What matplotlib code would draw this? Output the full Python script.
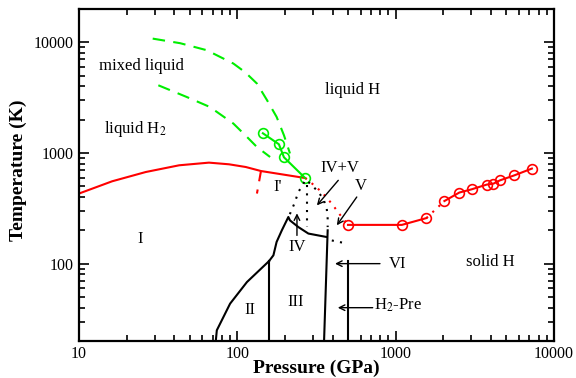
import matplotlib
matplotlib.use("Agg")
import matplotlib.pyplot as plt
from matplotlib.ticker import LogLocator, NullFormatter, FixedLocator, FixedFormatter

plt.rcParams['font.family'] = ['Liberation Serif', 'DejaVu Serif']
plt.rcParams['mathtext.fontset'] = 'stix'

# ---- data (P in GPa, T in K) ----
melt_P = [10, 16.2, 26.4, 42.9, 66.2, 88.7, 113, 141, 268]
melt_T = [430, 555, 673, 774, 818, 790, 747, 687, 594]
melt_dash_P = [141, 133]
melt_dash_T = [687, 430]
red_dot_P = [268, 281, 341, 395, 456, 500]
red_dot_T = [594, 566, 444, 348, 264, 224]
solid_P1 = [500, 1094, 1563]
solid_T1 = [224, 224, 258]
solid_gap_P = [1563, 2032]
solid_gap_T = [258, 368]
solid_P2 = [2032, 2523, 3027, 3758, 4140, 4560, 5620, 7250]
solid_T2 = [368, 439, 470, 518, 528, 566, 628, 723]

green_P = [145, 183, 197, 268]
green_T = [1507, 1199, 914, 594]
upper_dash_P = [29.2, 43.5, 64, 94.4, 112, 133, 154, 177, 197, 215]
upper_dash_T = [10800, 9820, 8490, 6430, 5370, 4240, 3000, 2120, 1445, 990]
lower_dash_P = [31.7, 47.9, 67, 94.4, 115, 133, 161]
lower_dash_T = [4090, 3206, 2606, 1845, 1397, 1132, 920]

I_II_P = [73.1, 74.2, 90, 115, 158.6]
I_II_T = [20, 25, 43.5, 68.2, 105.5]
II_III_P = [158.6, 158.6]
II_III_T = [20, 105.5]
IV_P = [158.6, 169, 177, 191, 205, 210, 215, 243, 281, 367]
IV_T = [105.5, 119, 157, 200, 246, 264, 246, 214, 187, 174]
III_V_P = [353, 372]
III_V_T = [20, 200]
pre_P = [502, 502]
pre_T = [20, 105.5]

dotL_P = [265, 243, 229, 213]
dotL_T = [547, 444, 348, 273]
dotM_P = [274, 274]
dotM_T = [511, 214]
dotR_P = [281, 318, 349, 367, 372, 372]
dotR_T = [547, 460, 387, 314, 255, 214]
dotLR_P = [395, 460]
dotLR_T = [162, 155]

labels = ["mixed liquid", "liquid H$_2$", "liquid H", "I", "I'", "II", "III",
          "IV", "solid H", "IV+V", "V", "VI", "H$_2$-Pre"]
label_P = [24.9, 22.6, 538, 24.3, 181, 120, 235, 238, 3945, 445, 604, 1035, 1035]
label_T = [6080, 1663, 3690, 166, 490, 37.8, 44.7, 140, 103, 727, 500, 98.5, 42]

arrow_from_P = [238, 434, 568, 796, 716]
arrow_from_T = [180, 566, 400, 100, 40]
arrow_to_P = [238, 318, 425, 414, 431]
arrow_to_T = [285, 336, 222, 100, 40]

xticks = [10, 100, 1000, 10000]
yticks = [100, 1000, 10000]

# ---- figure ----
fig = plt.figure(figsize=(5.76, 3.78), dpi=100)
ax = fig.add_axes([79/576, 1-341/378, (554-79)/576, (341-9)/378])
ax.set_xscale('log')
ax.set_yscale('log')
ax.set_xlim(10, 10000)
ax.set_ylim(20, 20000)

red = '#ff0000'
green = '#00ee00'
lw = 1.5

ax.plot(melt_P, melt_T, color=red, lw=lw)
ax.plot(melt_dash_P, melt_dash_T, color=red, lw=lw, dashes=(5, 4))
ax.plot(red_dot_P, red_dot_T, color=red, lw=lw, linestyle=(0, (1, 3)))
ax.plot(solid_P1, solid_T1, color=red, lw=lw, marker='o', mfc='none', ms=7, mew=1.2)
ax.plot(solid_gap_P, solid_gap_T, color=red, lw=lw, linestyle=(0, (1, 3)))
ax.plot(solid_P2, solid_T2, color=red, lw=lw, marker='o', mfc='none', ms=7, mew=1.2)

ax.plot(green_P, green_T, color=green, lw=lw, marker='o', mfc='none', ms=7, mew=1.2)
ax.plot(upper_dash_P, upper_dash_T, color=green, lw=lw, dashes=(6, 4))
ax.plot(lower_dash_P, lower_dash_T, color=green, lw=lw, dashes=(6, 4))

for P, T in [(I_II_P, I_II_T), (II_III_P, II_III_T), (IV_P, IV_T),
             (III_V_P, III_V_T), (pre_P, pre_T)]:
    ax.plot(P, T, color='black', lw=lw)
for P, T in [(dotL_P, dotL_T), (dotM_P, dotM_T), (dotR_P, dotR_T), (dotLR_P, dotLR_T)]:
    ax.plot(P, T, color='black', lw=lw, linestyle=(0, (1, 3)))

for s, P, T in zip(labels, label_P, label_T):
    ax.text(P, T, s, fontsize=12, ha='center', va='center')

for p0, t0, p1, t1 in zip(arrow_from_P, arrow_from_T, arrow_to_P, arrow_to_T):
    ax.annotate('', xy=(p1, t1), xytext=(p0, t0),
                arrowprops=dict(arrowstyle='->', color='black', lw=1.0,
                                shrinkA=0, shrinkB=0, mutation_scale=10))

ax.xaxis.set_major_locator(FixedLocator(xticks))
ax.xaxis.set_major_formatter(FixedFormatter([str(v) for v in xticks]))
ax.yaxis.set_major_locator(FixedLocator(yticks))
ax.yaxis.set_major_formatter(FixedFormatter([str(v) for v in yticks]))
ax.xaxis.set_minor_locator(LogLocator(base=10, subs=range(2, 10)))
ax.yaxis.set_minor_locator(LogLocator(base=10, subs=range(2, 10)))
ax.xaxis.set_minor_formatter(NullFormatter())
ax.yaxis.set_minor_formatter(NullFormatter())
ax.tick_params(which='both', direction='in', top=True, right=True, labelsize=11.5, width=1.2)
ax.tick_params(which='major', length=7)
ax.tick_params(which='minor', length=4)
for sp in ax.spines.values():
    sp.set_linewidth(1.6)

fig.text((79+554)/2/576, 1-368/378, 'Pressure (GPa)', fontsize=14, fontweight='bold',
         ha='center', va='center')
fig.text(18/576, 1-170/378, 'Temperature (K)', fontsize=14, fontweight='bold',
         ha='center', va='center', rotation=90)

fig.savefig('out.png', dpi=100)
